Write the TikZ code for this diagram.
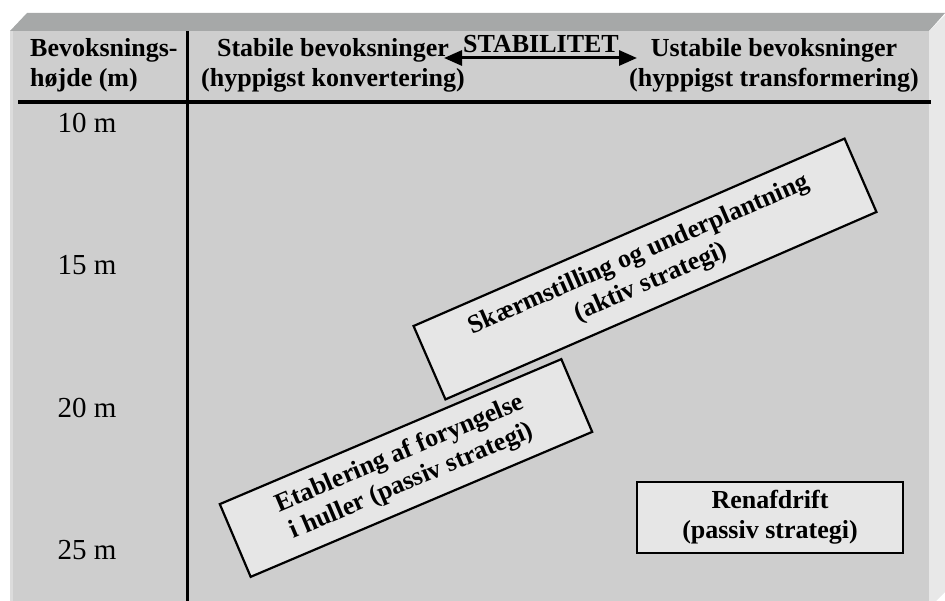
\documentclass[tikz,border=0pt]{standalone}
\usepackage{fontspec}
\setmainfont{Liberation Serif}
\usetikzlibrary{arrows.meta}
\definecolor{facegray}{HTML}{CECECE}
\definecolor{topgray}{HTML}{A6A8A8}
\definecolor{sidegray}{HTML}{E8E8E8}
\definecolor{edgegray}{HTML}{DCDCDC}
\definecolor{boxgray}{HTML}{E6E6E6}
\begin{document}
\begin{tikzpicture}[x=1pt, y=-1pt,
    headtext/.style={font=\fontsize{26}{30}\selectfont\bfseries, align=center, inner sep=0pt},
    heighttext/.style={font=\fontsize{29}{32}\selectfont, inner sep=0pt},
    strategybox/.style={draw, fill=boxgray, line width=2.2pt, align=center,
        font=\fontsize{26}{30}\selectfont\bfseries, inner sep=0pt}
]
\useasboundingbox (0,0) rectangle (945,601);
% panel
\fill[facegray] (10,31) rectangle (929,601);
\fill[topgray] (10,31) -- (27,13) -- (945,13) -- (929,31) -- cycle;
\fill[sidegray] (929,31) -- (945,15) -- (945,592) -- (936,601) -- (929,601) -- cycle;
\fill[edgegray] (10,31) rectangle (13,601);

% table lines
\draw[line width=3.3pt] (187.5,31) -- (187.5,601);
\draw[line width=3.3pt] (18,102) -- (931,102);

% header
\node[headtext, align=left, anchor=west] (hoejde) at (30,65) {Bevoksnings-\\højde (m)};
\node[headtext] (stabile) at (333,65) {Stabile bevoksninger\\(hyppigst konvertering)};
\node[headtext] (ustabile) at (774,65) {Ustabile bevoksninger\\(hyppigst transformering)};
\node[headtext, anchor=base] (stabilitet) at (541,53) {STABILITET};
\coordinate (venstre) at (444,58);
\coordinate (hoejre) at (637,58);
\draw[line width=3pt, {Triangle[length=18pt,width=15pt]}-{Triangle[length=18pt,width=15pt]}] (venstre) -- (hoejre);

% heights
\foreach \h/\y in {10/123, 15/265, 20/408, 25/550}
    \node[heighttext] (h\h) at (87,\y) {\h~m};

% strategies
\node[strategybox, rotate=23.5, minimum width=470pt, minimum height=80pt] (skaerm) at (645,269) {Skærmstilling og underplantning\\(aktiv strategi)};
\node[strategybox, rotate=23, minimum width=371pt, minimum height=79pt] (etablering) at (406,468) {Etablering af foryngelse\\i huller (passiv strategi)};
\node[strategybox, minimum width=266pt, minimum height=71pt] (renafdrift) at (770,517.5) {Renafdrift\\(passiv strategi)};
\end{tikzpicture}
\end{document}
